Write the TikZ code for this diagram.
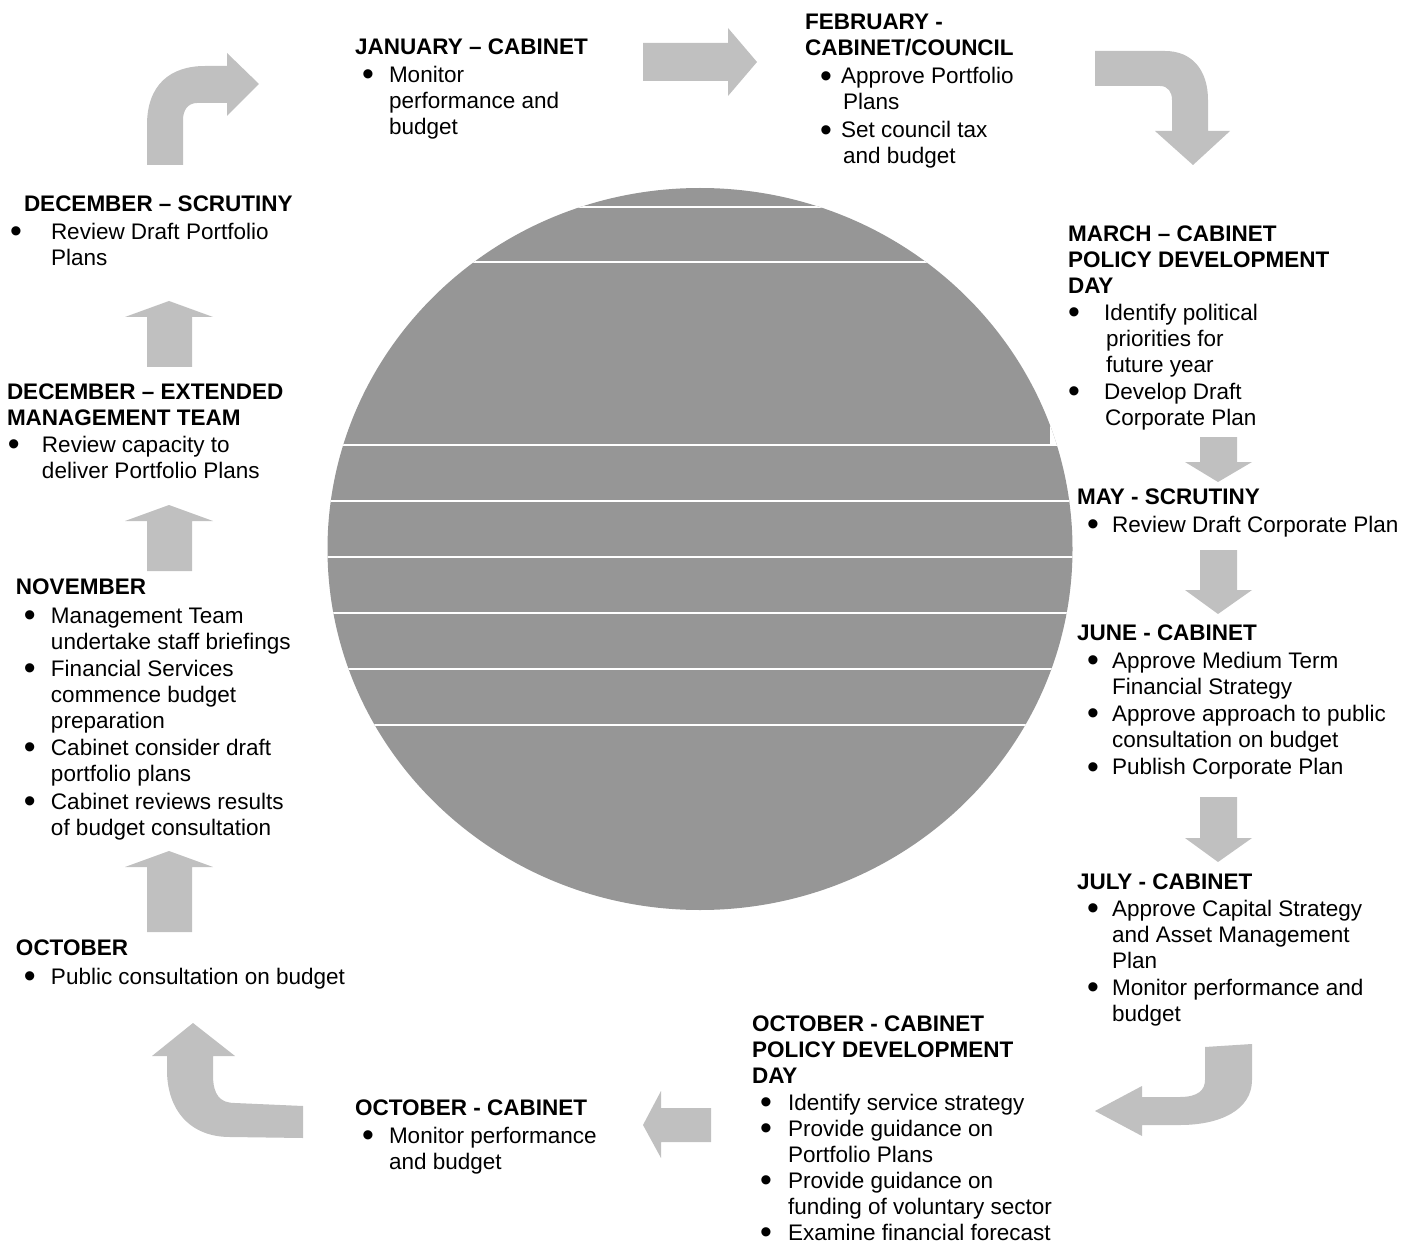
\documentclass[tikz,border=0pt]{standalone}
\usepackage{fontspec}
\setmainfont{Liberation Sans}
\definecolor{circgray}{RGB}{150,150,150}
\definecolor{arrgray}{RGB}{192,192,192}
\newcommand{\bu}[3]{\hspace*{#1pt}\makebox[#2pt][l]{\smash{\raisebox{-3.5pt}{\scalebox{1.5}{\textbullet}}}}#3}
\newcommand{\cn}[2]{\hspace*{#1pt}#2}
\newcommand{\UpBlk}[3]{\fill[arr] (147,#3) -- (147,#2) -- (125,#2) -- (169,#1) -- (213,#2) -- (192,#2) -- (192,#3) -- cycle;}
\newcommand{\DnBlk}[3]{\fill[arr] (1200,#1) -- (1237,#1) -- (1237,#2) -- (1252,#2) -- (1218,#3) -- (1185,#2) -- (1200,#2) -- cycle;}
\begin{document}
\begin{tikzpicture}[x=1pt,y=-1pt,
  arr/.style={fill=arrgray},
  blk/.style={anchor=north west, inner sep=0pt, outer sep=0pt, align=left, font=\fontsize{22.5}{26}\selectfont}]
\useasboundingbox (0,0) rectangle (1416,1246);
\fill[white] (0,0) rectangle (1416,1246);
% central disc
\fill[circgray] (700,549) ellipse [x radius=372.5pt, y radius=361pt];
\begin{scope}
  \clip (700,549) ellipse [x radius=372.5pt, y radius=361pt];
  \foreach \yy in {207,262,445,501,557,613,669,725}
    \draw[white, line width=1.5pt] (300,\yy) -- (1100,\yy);
  \fill[white] (1050,418) rectangle (1090,444);
\end{scope}
% top-left curved arrow
\fill[arr] (147,165) -- (147,125) .. controls (147,85) and (170,66) .. (205,66) -- (227,66) -- (227,53) -- (259,84) -- (227,116) -- (227,103) -- (197,103) .. controls (188,103) and (183,110) .. (183,120) -- (183,165) -- cycle;
% top straight arrow
\fill[arr] (643,43) -- (728,43) -- (728,28) -- (757,62) -- (728,96) -- (728,81) -- (643,81) -- cycle;
% top-right curved arrow
\fill[arr] (1095,51) -- (1165,51) .. controls (1192,51) and (1208,70) .. (1208,100) -- (1208,131) -- (1230,131) -- (1193,165) -- (1155,131) -- (1172,131) -- (1172,100) .. controls (1172,92) and (1168,86) .. (1160,86) -- (1095,86) -- cycle;
% right column down arrows
\DnBlk{437}{462}{482}
\DnBlk{550}{590}{614}
\DnBlk{797}{838}{862}
% bottom-right curved arrow
\fill[arr] (1205,1047) -- (1252,1044) -- (1252,1080) .. controls (1252,1110) and (1220,1125) .. (1180,1125) -- (1142,1125) -- (1142,1136) -- (1095,1111) -- (1142,1086) -- (1142,1097) -- (1180,1097) .. controls (1198,1097) and (1205,1090) .. (1205,1080) -- cycle;
% bottom straight arrow
\fill[arr] (711,1108) -- (661,1108) -- (661,1091) -- (643,1125) -- (661,1158) -- (661,1142) -- (711,1142) -- cycle;
% bottom-left curved arrow
\fill[arr] (303,1106) -- (303,1138) -- (230,1137) .. controls (190,1137) and (167,1110) .. (167,1070) -- (167,1056) -- (152,1056) -- (193,1023) -- (235,1056) -- (213,1056) -- (213,1075) .. controls (213,1095) and (220,1103) .. (235,1103) -- cycle;
% left column up arrows
\UpBlk{851}{867}{932}
\UpBlk{505}{521}{571}
\UpBlk{301}{317}{367}
% text blocks
\node[blk] (jan) at (355,38.3) {\textbf{JANUARY – CABINET}\\[2pt]
  \bu{7}{27}{Monitor}\\
  \cn{34}{performance and}\\
  \cn{34}{budget}};
\node[blk] (feb) at (805,14.3) {\textbf{FEBRUARY -}\\
  \textbf{CABINET/COUNCIL}\\[2pt]
  \bu{15}{21}{Approve Portfolio}\\
  \cn{38}{Plans}\\[2pt]
  \bu{15}{21}{Set council tax}\\
  \cn{38}{and budget}};
\node[blk] (mar) at (1068,225.3) {\textbf{MARCH – CABINET}\\
  \textbf{POLICY DEVELOPMENT}\\
  \textbf{DAY}\\[1pt]
  \bu{0}{36}{Identify political}\\
  \cn{38}{priorities for}\\
  \cn{38}{future year}\\[1pt]
  \bu{0}{36}{Develop Draft}\\
  \cn{37}{Corporate Plan}};
\node[blk] (may) at (1077,488.3) {\textbf{MAY - SCRUTINY}\\[2pt]
  \bu{10}{25}{Review Draft Corporate Plan}};
\node[blk] (jun) at (1077,624.3) {\textbf{JUNE - CABINET}\\[2pt]
  \bu{10}{25}{Approve Medium Term}\\
  \cn{35}{Financial Strategy}\\[1pt]
  \bu{10}{25}{Approve approach to public}\\
  \cn{35}{consultation on budget}\\[1.5pt]
  \bu{10}{25}{Publish Corporate Plan}};
\node[blk] (jul) at (1077,873.3) {\textbf{JULY - CABINET}\\[1pt]
  \bu{10}{25}{Approve Capital Strategy}\\
  \cn{35}{and Asset Management}\\
  \cn{35}{Plan}\\[1pt]
  \bu{10}{25}{Monitor performance and}\\
  \cn{35}{budget}};
\node[blk] (octpdd) at (752,1015.3) {\textbf{OCTOBER - CABINET}\\
  \textbf{POLICY DEVELOPMENT}\\
  \textbf{DAY}\\[1pt]
  \bu{8}{28}{Identify service strategy}\\
  \bu{8}{28}{Provide guidance on}\\
  \cn{36}{Portfolio Plans}\\
  \bu{8}{28}{Provide guidance on}\\
  \cn{36}{funding of voluntary sector}\\
  \bu{8}{28}{Examine financial forecast}};
\node[blk] (octcab) at (355,1099.3) {\textbf{OCTOBER - CABINET}\\[2pt]
  \bu{7}{27}{Monitor performance}\\
  \cn{34}{and budget}};
\node[blk] (oct) at (16,939.3) {\textbf{OCTOBER}\\[3pt]
  \bu{8}{27}{Public consultation on budget}};
\node[blk] (nov) at (16,578.3) {\textbf{NOVEMBER}\\[3pt]
  \bu{8}{27}{Management Team}\\
  \cn{35}{undertake staff briefings}\\[1pt]
  \bu{8}{27}{Financial Services}\\
  \cn{35}{commence budget}\\
  \cn{35}{preparation}\\[1pt]
  \bu{8}{27}{Cabinet consider draft}\\
  \cn{35}{portfolio plans}\\[2pt]
  \bu{8}{27}{Cabinet reviews results}\\
  \cn{35}{of budget consultation}};
\node[blk] (decext) at (7,383.3) {\textbf{DECEMBER – EXTENDED}\\
  \textbf{MANAGEMENT TEAM}\\[1pt]
  \bu{1}{34}{Review capacity to}\\
  \cn{35}{deliver Portfolio Plans}};
\node[blk] (decscr) at (10,195.3) {\cn{14}{\textbf{DECEMBER – SCRUTINY}}\\[2pt]
  \bu{0}{41}{Review Draft Portfolio}\\
  \cn{41}{Plans}};
\end{tikzpicture}
\end{document}
